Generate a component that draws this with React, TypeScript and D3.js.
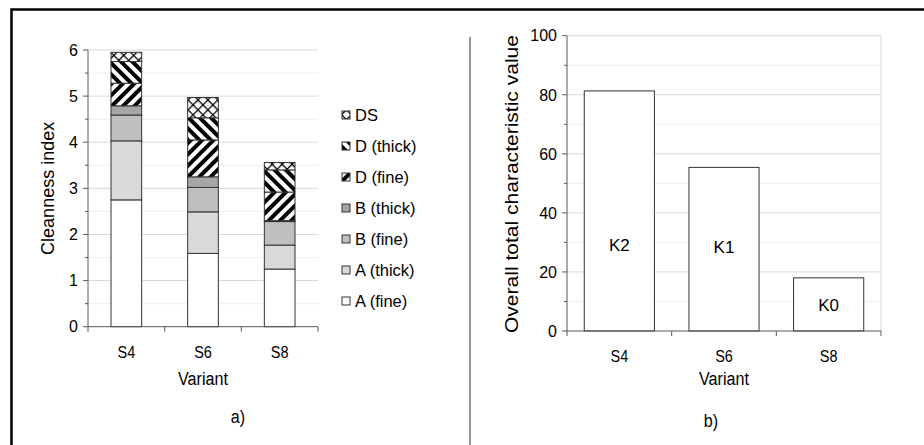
import React from "react";
import * as d3 from "d3";

const variants = ["S4", "S6", "S8"];
const seriesNames = ["A (fine)", "A (thick)", "B (fine)", "B (thick)", "D (fine)", "D (thick)", "DS"];
const aFine = [2.75, 1.59, 1.25];
const aThick = [1.28, 0.9, 0.52];
const bFine = [0.56, 0.53, 0.51];
const bThick = [0.2, 0.23, 0.02];
const dFine = [0.49, 0.8, 0.62];
const dThick = [0.47, 0.48, 0.48];
const ds = [0.2, 0.44, 0.16];
const leftTicks = [0, 1, 2, 3, 4, 5, 6];

const totalValues = [81.3, 55.4, 18.0];
const totalLabels = ["K2", "K1", "K0"];
const labelAt = [29, 28.5, 9];
const rightTicks = [0, 20, 40, 60, 80, 100];

const fills = ["#ffffff", "#d9d9d9", "#bfbfbf", "#a6a6a6", "url(#pUp)", "url(#pDown)", "url(#pCross)"];
const FONT = "'Liberation Sans', Arial, sans-serif";

function T({ x, y, size, sx = 0.85, anchor = "middle", children }: any) {
  return (
    <text transform={`translate(${x},${y}) scale(${sx},1)`} textAnchor={anchor} fontSize={size}>
      {children}
    </text>
  );
}

export default function App() {
  const cols = [aFine, aThick, bFine, bThick, dFine, dThick, ds];
  const rows = variants.map((v, i) => {
    const o: any = { v };
    seriesNames.forEach((s, k) => (o[s] = cols[k][i]));
    return o;
  });
  const stacked = d3.stack().keys(seriesNames)(rows);

  // left chart
  const lx0 = 88, lx1 = 318, ly0 = 326.7, ly1 = 50;
  const xL = d3.scaleBand().domain(variants).range([lx0, lx1]).paddingInner(0.6).paddingOuter(0.3);
  const yL = d3.scaleLinear().domain([0, 6]).range([ly0, ly1]);
  const stepL = (lx1 - lx0) / 3;

  // right chart
  const rx0 = 567, rx1 = 881, ry0 = 331, ry1 = 35.7;
  const xR = d3.scaleBand().domain(variants).range([rx0, rx1]).paddingInner(0.33).paddingOuter(0.165);
  const yR = d3.scaleLinear().domain([0, 100]).range([ry0, ry1]);
  const stepR = (rx1 - rx0) / 3;

  const minorL = d3.range(0.5, 6, 1);
  const minorR = d3.range(10, 100, 20);

  return (
    <svg width={924} height={445} style={{ position: "absolute", left: 0, top: 0, background: "#fff" }} fontFamily={FONT}>
      <defs>
        <pattern id="pUp" patternUnits="userSpaceOnUse" width={8} height={8} patternTransform="rotate(45)">
          <rect width={8} height={8} fill="#fff" />
          <rect width={4} height={8} fill="#000" />
        </pattern>
        <pattern id="pDown" patternUnits="userSpaceOnUse" width={8} height={8} patternTransform="rotate(-45)">
          <rect width={8} height={8} fill="#fff" />
          <rect width={4} height={8} fill="#000" />
        </pattern>
        <pattern id="pCross" patternUnits="userSpaceOnUse" width={7} height={7} patternTransform="rotate(45)">
          <rect width={7} height={7} fill="#fff" />
          <rect width={1.3} height={7} fill="#000" />
          <rect width={7} height={1.3} fill="#000" />
        </pattern>
      </defs>
      {/* frame */}
      <rect x={11.5} y={9.5} width={1000} height={1000} fill="none" stroke="#000" strokeWidth={2.5} />
      <line x1={470} x2={470} y1={37} y2={445} stroke="#333" strokeWidth={1} />

      {/* LEFT CHART */}
      {minorL.map((t) => (
        <line key={"lm" + t} x1={lx0} x2={lx1} y1={yL(t)} y2={yL(t)} stroke="#eeeeee" />
      ))}
      {leftTicks.filter((t) => t > 0).map((t) => (
        <line key={"lg" + t} x1={lx0} x2={lx1} y1={yL(t)} y2={yL(t)} stroke="#d9d9d9" />
      ))}
      {stacked.map((layer, k) => (
        <g key={layer.key}>
          {layer.map((d, i) => (
            <rect
              key={i}
              x={xL(variants[i])}
              width={xL.bandwidth()}
              y={yL(d[1])}
              height={Math.max(0, yL(d[0]) - yL(d[1]))}
              fill={fills[k]}
              stroke="#333"
              strokeWidth={1}
            />
          ))}
        </g>
      ))}
      <line x1={lx0} x2={lx0} y1={ly1} y2={ly0} stroke="#595959" />
      <line x1={lx0} x2={lx1} y1={ly0} y2={ly0} stroke="#595959" />
      {leftTicks.map((t) => (
        <g key={"lt" + t}>
          <line x1={lx0 - 5} x2={lx0} y1={yL(t)} y2={yL(t)} stroke="#595959" />
          <text x={lx0 - 10} y={yL(t)} dy="0.36em" textAnchor="end" fontSize={16}>{t}</text>
        </g>
      ))}
      {minorL.map((t) => (
        <line key={"lmt" + t} x1={lx0 - 3} x2={lx0} y1={yL(t)} y2={yL(t)} stroke="#595959" />
      ))}
      {d3.range(4).map((i) => (
        <line key={"lxt" + i} x1={lx0 + i * stepL} x2={lx0 + i * stepL} y1={ly0} y2={ly0 + 5} stroke="#595959" />
      ))}
      {variants.map((v) => (
        <T key={"lxl" + v} x={xL(v)! + xL.bandwidth() / 2} y={358} size={17}>{v}</T>
      ))}
      <T x={(lx0 + lx1) / 2} y={385} size={19}>Variant</T>
      <text transform={`translate(54,${(ly0 + ly1) / 2}) rotate(-90)`} textAnchor="middle" fontSize={18}>Cleanness index</text>
      <T x={238} y={423} size={19}>a)</T>

      {/* legend */}
      {seriesNames.slice().reverse().map((s, j) => {
        const k = seriesNames.length - 1 - j;
        const cy = 115 + j * 31;
        return (
          <g key={"lg" + s}>
            <rect x={342} y={cy - 4} width={8} height={8} fill={fills[k]} stroke="#333" strokeWidth={1} />
            <text x={355} y={cy} dy="0.36em" fontSize={16.5}>{s}</text>
          </g>
        );
      })}

      {/* RIGHT CHART */}
      {minorR.map((t) => (
        <line key={"rm" + t} x1={rx0} x2={rx1} y1={yR(t)} y2={yR(t)} stroke="#eeeeee" />
      ))}
      {rightTicks.filter((t) => t > 0).map((t) => (
        <line key={"rg" + t} x1={rx0} x2={rx1} y1={yR(t)} y2={yR(t)} stroke="#d9d9d9" />
      ))}
      <line x1={rx1} x2={rx1} y1={ry1} y2={ry0} stroke="#d9d9d9" />
      {variants.map((v, i) => (
        <g key={"rb" + v}>
          <rect x={xR(v)} width={xR.bandwidth()} y={yR(totalValues[i])} height={yR(0) - yR(totalValues[i])} fill="#fff" stroke="#333" strokeWidth={1} />
          <text x={xR(v)! + xR.bandwidth() / 2} y={yR(labelAt[i])} dy="0.36em" textAnchor="middle" fontSize={17}>{totalLabels[i]}</text>
        </g>
      ))}
      <line x1={rx0} x2={rx0} y1={ry1} y2={ry0} stroke="#595959" />
      <line x1={rx0} x2={rx1} y1={ry0} y2={ry0} stroke="#595959" />
      {rightTicks.map((t) => (
        <g key={"rt" + t}>
          <line x1={rx0 - 5} x2={rx0} y1={yR(t)} y2={yR(t)} stroke="#595959" />
          <text x={rx0 - 10} y={yR(t)} dy="0.36em" textAnchor="end" fontSize={16}>{t}</text>
        </g>
      ))}
      {minorR.map((t) => (
        <line key={"rmt" + t} x1={rx0 - 3} x2={rx0} y1={yR(t)} y2={yR(t)} stroke="#595959" />
      ))}
      {d3.range(4).map((i) => (
        <line key={"rxt" + i} x1={rx0 + i * stepR} x2={rx0 + i * stepR} y1={ry0} y2={ry0 + 5} stroke="#595959" />
      ))}
      {variants.map((v) => (
        <T key={"rxl" + v} x={xR(v)! + xR.bandwidth() / 2} y={362} size={17}>{v}</T>
      ))}
      <T x={(rx0 + rx1) / 2} y={385} size={19}>Variant</T>
      <text transform={`translate(518,184) rotate(-90)`} textAnchor="middle" fontSize={19} textLength={298} lengthAdjust="spacingAndGlyphs">Overall total characteristic value</text>
      <T x={711} y={427} size={19}>b)</T>
    </svg>
  );
}
